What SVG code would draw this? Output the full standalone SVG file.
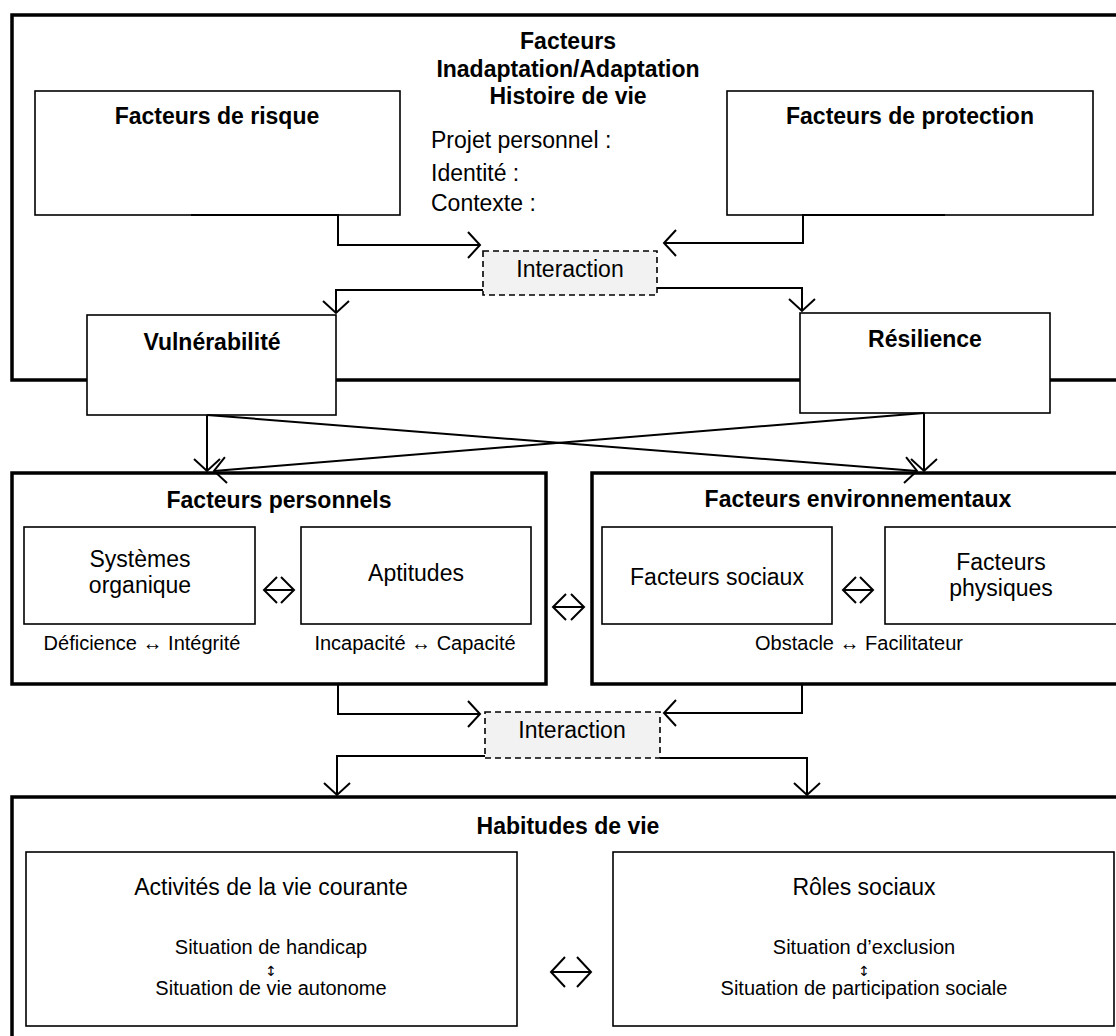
<svg xmlns="http://www.w3.org/2000/svg" width="1116" height="1036" viewBox="0 0 1116 1036">
<style>
text{font-family:"Liberation Sans",Arial,sans-serif;fill:#000;text-anchor:middle}
.b{font-weight:bold;font-size:23px}
.r{font-size:23px}
.s{font-size:20px}
.l{text-anchor:start}
.ud{font-family:"DejaVu Sans","DejaVu Sans Mono",sans-serif;font-size:14px}
.thick{fill:#fff;stroke:#000;stroke-width:3.5}
.box{fill:#fff;stroke:#000;stroke-width:1.6}
.dash{fill:#f2f2f2;stroke:#000;stroke-width:1.6;stroke-dasharray:6 4}
.c{fill:none;stroke:#000;stroke-width:2}
</style>
<defs>
<marker id="ah" markerUnits="userSpaceOnUse" markerWidth="18" markerHeight="32" viewBox="-15 -16 18 32" refX="0" refY="0" orient="auto">
<path d="M-12,-13 L0,0 L-12,13" fill="none" stroke="#000" stroke-width="2"/>
</marker>
</defs>

<g id="outer-facteurs">
<rect class="thick" x="12" y="15" width="1120" height="365"/>
<text class="b" x="568" y="49">Facteurs</text>
<text class="b" x="568" y="77">Inadaptation/Adaptation</text>
<text class="b" x="568" y="104">Histoire de vie</text>
<text class="r l" x="431" y="148">Projet personnel :</text>
<text class="r l" x="431" y="181">Identité :</text>
<text class="r l" x="431" y="211">Contexte :</text>
</g>

<g id="risque">
<rect class="box" x="35" y="91" width="365" height="124"/>
<text class="b" x="217" y="124">Facteurs de risque</text>
</g>

<g id="protection">
<rect class="box" x="727" y="91" width="366" height="124"/>
<text class="b" x="910" y="124">Facteurs de protection</text>
</g>

<g id="interaction1">
<rect class="dash" x="483" y="251" width="174" height="44"/>
<text class="r" x="570" y="277">Interaction</text>
</g>

<g id="vulnerabilite">
<rect class="box" x="87" y="315" width="249" height="100"/>
<text class="b" x="212" y="350">Vulnérabilité</text>
</g>

<g id="resilience">
<rect class="box" x="800" y="313" width="250" height="100"/>
<text class="b" x="925" y="347">Résilience</text>
</g>

<g id="facteurs-personnels">
<rect class="thick" x="12" y="473" width="534" height="211"/>
<text class="b" x="279" y="508">Facteurs personnels</text>
</g>

<g id="systemes">
<rect class="box" x="24" y="527" width="231" height="97"/>
<text class="r" x="140" y="567">Systèmes</text>
<text class="r" x="140" y="593">organique</text>
<text class="s" x="142" y="650">Déficience ↔ Intégrité</text>
</g>

<g id="aptitudes">
<rect class="box" x="301" y="527" width="230" height="97"/>
<text class="r" x="416" y="581">Aptitudes</text>
<text class="s" x="415" y="650">Incapacité ↔ Capacité</text>
</g>

<g id="facteurs-environnementaux">
<rect class="thick" x="592" y="473" width="540" height="211"/>
<text class="b" x="858" y="507">Facteurs environnementaux</text>
<text class="s" x="859" y="650">Obstacle ↔ Facilitateur</text>
</g>

<g id="sociaux">
<rect class="box" x="602" y="527" width="230" height="97"/>
<text class="r" x="717" y="585">Facteurs sociaux</text>
</g>

<g id="physiques">
<rect class="box" x="885" y="527" width="240" height="97"/>
<text class="r" x="1001" y="570">Facteurs</text>
<text class="r" x="1001" y="596">physiques</text>
</g>

<g id="interaction2">
<rect class="dash" x="485" y="712" width="175" height="46"/>
<text class="r" x="572" y="738">Interaction</text>
</g>

<g id="habitudes">
<rect class="thick" x="12" y="797" width="1120" height="260"/>
<text class="b" x="568" y="834">Habitudes de vie</text>
</g>

<g id="activites">
<rect class="box" x="26" y="852" width="491" height="174"/>
<text class="r" x="271" y="895">Activités de la vie courante</text>
<text class="s" x="271" y="954">Situation de handicap</text>
<text class="ud" x="271" y="976">↕&#xFE0E;</text>
<text class="s" x="271" y="995">Situation de vie autonome</text>
</g>

<g id="roles">
<rect class="box" x="613" y="852" width="501" height="174"/>
<text class="r" x="864" y="895">Rôles sociaux</text>
<text class="s" x="864" y="954">Situation d’exclusion</text>
<text class="ud" x="864" y="976">↕&#xFE0E;</text>
<text class="s" x="864" y="995">Situation de participation sociale</text>
</g>

<g id="connectors">
<path class="c" d="M191,215 H338 V245 H480" marker-end="url(#ah)"/>
<path class="c" d="M945,215 H803 V243 H664" marker-end="url(#ah)"/>
<path class="c" d="M483,290 H336 V313" marker-end="url(#ah)"/>
<path class="c" d="M657,288 H802 V311" marker-end="url(#ah)"/>
<path class="c" d="M207,415 V471" marker-end="url(#ah)"/>
<path class="c" d="M924,413 V471" marker-end="url(#ah)"/>
<path class="c" d="M207,415 L917,471" marker-end="url(#ah)"/>
<path class="c" d="M924,413 L214,471" marker-end="url(#ah)"/>
<path class="c" d="M338,684 V714 H480" marker-end="url(#ah)"/>
<path class="c" d="M802,684 V713 H664" marker-end="url(#ah)"/>
<path class="c" d="M485,756 H337 V795" marker-end="url(#ah)"/>
<path class="c" d="M660,758 H807 V795" marker-end="url(#ah)"/>
<path class="c" d="M264,590 H294 M277,577 L264,590 L277,603 M281,577 L294,590 L281,603"/>
<path class="c" d="M553,607 H584 M566,594 L553,607 L566,620 M571,594 L584,607 L571,620"/>
<path class="c" d="M843,590 H873 M856,577 L843,590 L856,603 M860,577 L873,590 L860,603"/>
<path class="c" d="M551,972 H591 M565,957 L551,972 L565,987 M577,957 L591,972 L577,987"/>
</g>
</svg>
